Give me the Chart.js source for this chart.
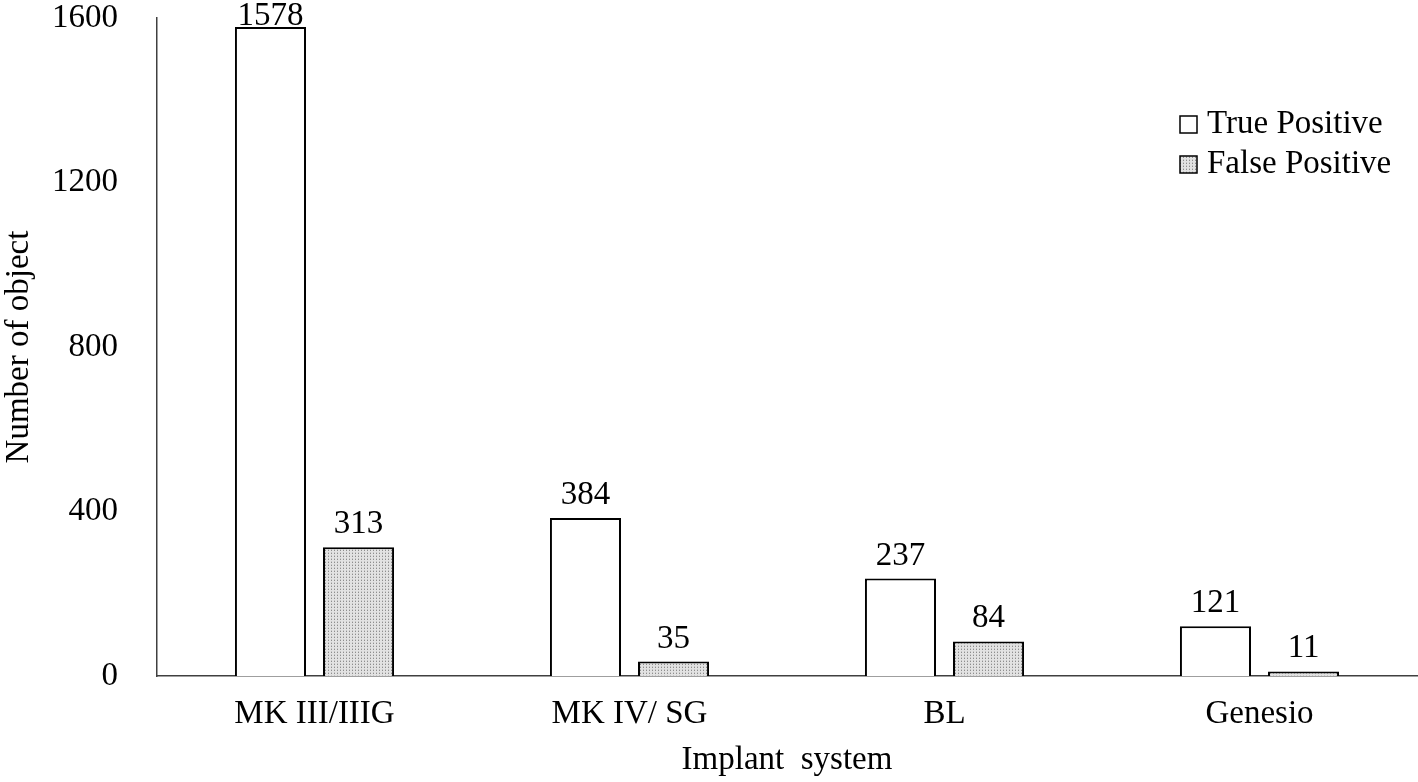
<!DOCTYPE html>
<html>
<head>
<meta charset="utf-8">
<script src="https://cdn.jsdelivr.net/npm/chart.js@4"></script>
<style>
  html, body { margin: 0; padding: 0; background: #fff; }
  #wrap { width: 1418px; height: 782px; position: relative; }
</style>
</head>
<body>
<div id="wrap"><canvas id="implantChart"></canvas></div>
<script>
const categories = ["MK III/IIIG", "MK IV/ SG", "BL", "Genesio"];
const truePositive = [1578, 384, 237, 121];
const falsePositive = [313, 35, 84, 11];
const yTicks = [0, 400, 800, 1200, 1600];

const SERIF = "'Liberation Serif', 'Times New Roman', serif";
const FONT_SIZE = 33;

// dotted fill used by the false positive bars
function makeDots() {
  const tile = document.createElement("canvas");
  tile.width = 3;
  tile.height = 3;
  const t = tile.getContext("2d");
  t.fillStyle = "#e2e2e2";
  t.fillRect(0, 0, 3, 3);
  t.fillStyle = "#8e8e8e";
  t.fillRect(1, 1, 1, 1);
  t.fillStyle = "#c4c4c4";
  t.fillRect(1, 0, 1, 1);
  return t.createPattern(tile, "repeat");
}

// value labels over each bar
const valueLabels = {
  id: "valueLabels",
  afterDatasetsDraw(chart) {
    const ctx = chart.ctx;
    ctx.save();
    ctx.font = FONT_SIZE + "px " + SERIF;
    ctx.fillStyle = "#000";
    ctx.textAlign = "center";
    ctx.textBaseline = "alphabetic";
    chart.data.datasets.forEach((ds, i) => {
      chart.getDatasetMeta(i).data.forEach((bar, j) => {
        const y = Math.max(bar.y - 14, 25);
        ctx.fillText(String(ds.data[j]), bar.x, y);
      });
    });
    ctx.restore();
  }
};

// legend stacked in the top right corner
const cornerLegend = {
  id: "cornerLegend",
  afterDraw(chart) {
    const ctx = chart.ctx;
    ctx.save();
    ctx.font = FONT_SIZE + "px " + SERIF;
    ctx.textBaseline = "alphabetic";
    ctx.textAlign = "left";
    chart.data.datasets.forEach((ds, i) => {
      const base = 133 + i * 40;
      ctx.fillStyle = ds.backgroundColor;
      ctx.fillRect(1180, base - 17, 17, 17);
      ctx.lineWidth = 1.5;
      ctx.strokeStyle = "#000";
      ctx.strokeRect(1180, base - 17, 17, 17);
      ctx.fillStyle = "#000";
      ctx.fillText(ds.label, 1207, base);
    });
    ctx.restore();
  }
};

const ctx = document.getElementById("implantChart").getContext("2d");

new Chart(ctx, {
  type: "bar",
  data: {
    labels: categories,
    datasets: [
      {
        label: "True Positive",
        data: truePositive,
        backgroundColor: "#ffffff",
        borderColor: "#000000",
        borderWidth: 2,
        borderSkipped: "bottom",
        categoryPercentage: 0.559,
        barPercentage: 0.807
      },
      {
        label: "False Positive",
        data: falsePositive,
        backgroundColor: makeDots(),
        borderColor: "#000000",
        borderWidth: 2,
        borderSkipped: "bottom",
        categoryPercentage: 0.559,
        barPercentage: 0.807
      }
    ]
  },
  options: {
    responsive: true,
    maintainAspectRatio: false,
    animation: false,
    layout: { padding: { top: 18, right: 1, left: 0, bottom: 0 } },
    plugins: {
      legend: { display: false },
      tooltip: { enabled: false }
    },
    scales: {
      x: {
        grid: { display: false, drawTicks: false },
        border: { display: true, color: "#404040", width: 1.5 },
        ticks: {
          padding: 19,
          color: "#000",
          font: { family: SERIF, size: FONT_SIZE }
        },
        title: {
          display: true,
          text: "Implant  system",
          color: "#000",
          font: { family: SERIF, size: FONT_SIZE },
          padding: { top: 0, bottom: 2 }
        },
        afterFit(scale) {
          scale.height = 106;
          scale.paddingLeft = 0;
          scale.paddingRight = 0;
        }
      },
      y: {
        min: 0,
        max: 1600,
        afterBuildTicks(scale) {
          scale.ticks = yTicks.map(v => ({ value: v }));
        },
        grid: { display: false, drawTicks: false },
        border: { display: true, color: "#404040", width: 1.5 },
        ticks: {
          padding: 39,
          color: "#000",
          font: { family: SERIF, size: FONT_SIZE },
          callback: v => String(v)
        },
        title: {
          display: true,
          text: "Number of object",
          color: "#000",
          font: { family: SERIF, size: FONT_SIZE },
          padding: { top: 0, bottom: 0 }
        },
        afterFit(scale) {
          scale.width = 157;
          scale.paddingTop = 0;
          scale.paddingBottom = 0;
        }
      }
    }
  },
  plugins: [valueLabels, cornerLegend]
});
</script>
</body>
</html>
